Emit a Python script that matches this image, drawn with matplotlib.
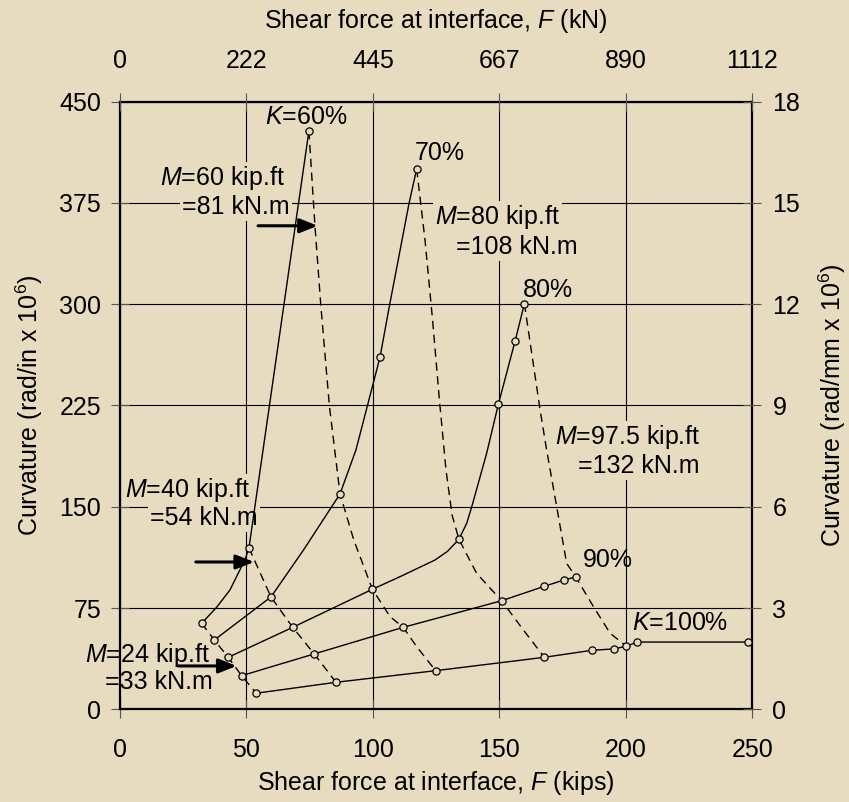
import numpy as np
import matplotlib
matplotlib.use('Agg')
import matplotlib.pyplot as plt

# fonts (Arial-like)
plt.rcParams.update({'font.family': 'Liberation Sans'})
plt.rcParams.update({'mathtext.fontset': 'custom'})
plt.rcParams.update({'mathtext.rm': 'Liberation Sans'})
plt.rcParams.update({'mathtext.it': 'Liberation Sans:italic'})
plt.rcParams.update({'font.size': 18})

BG = '#E7DCC0'

#%% data (kips, rad/in x 10^6)
# measured points (circles) on each K curve
k60_x = [32.3, 51.0, 74.7]
k60_y = [63.7, 119.5, 428.3]
k70_x = [37.3, 59.7, 87.0, 102.8, 117.3]
k70_y = [51.3, 83.2, 159.5, 260.7, 400.2]
k80_x = [42.8, 68.3, 99.8, 134.0, 149.6, 156.2, 159.9]
k80_y = [38.5, 60.7, 88.9, 125.9, 225.9, 272.6, 300.4]
k90_x = [48.1, 76.8, 112.0, 150.9, 167.8, 175.6, 180.2]
k90_y = [24.9, 41.0, 60.7, 80.4, 91.1, 95.8, 98.0]
k100_x = [53.9, 85.4, 124.8, 167.8, 186.6, 195.2, 200.2, 204.5, 248.3]
k100_y = [11.9, 20.0, 28.6, 38.5, 43.7, 44.7, 46.7, 49.8, 49.8]

# traced solid curves (through the circles)
k60_line_x = [32.3, 38.2, 43.5, 47.4, 49.4, 51.0, 74.7]
k60_line_y = [63.7, 75.5, 88.4, 103.2, 110.5, 119.5, 428.3]
k70_line_x = [37.3, 59.7, 72.5, 87.0, 93.3, 97.8, 102.8, 106.6, 114.3, 117.3]
k70_line_y = [51.3, 83.2, 117.8, 159.5, 192.1, 224.6, 260.7, 299.4, 374.8, 400.2]
k80_line_x = [42.8, 68.3, 99.8, 110.7, 124.6, 129.5, 134.0, 137.1, 139.1, 145.0, 149.6, 156.2, 159.9]
k80_line_y = [38.5, 60.7, 88.9, 98.2, 110.6, 117.0, 125.9, 137.8, 150.1, 189.8, 225.9, 272.6, 300.4]

# traced dashed constant-moment lines
m24_x = [32.3, 37.3, 42.8, 48.1, 53.9]
m24_y = [63.7, 51.3, 38.5, 24.9, 11.9]
m40_x = [51.0, 59.7, 68.3, 76.8, 85.4]
m40_y = [119.5, 83.2, 60.7, 41.0, 20.0]
m60_x = [74.7, 77.1, 79.4, 82.8, 87.0, 92.5, 99.8, 106.8, 112.0, 117.3, 124.8]
m60_y = [428.3, 357.7, 299.4, 224.6, 159.5, 125.0, 88.9, 68.6, 60.7, 46.4, 28.6]
m80_x = [117.3, 120.6, 123.6, 126.3, 128.9, 131.3, 134.0, 141.0, 150.9, 159.5, 167.8]
m80_y = [400.2, 347.6, 288.3, 229.1, 177.2, 143.9, 125.9, 100.7, 80.4, 58.7, 38.5]
m975_x = [159.9, 166.1, 168.7, 172.4, 176.6, 180.2, 187.2, 193.8, 200.2]
m975_y = [300.4, 221.7, 192.0, 152.8, 108.1, 98.0, 76.0, 56.3, 46.7]

kn_ticks = [0, 222, 445, 667, 890, 1112]
mm_ticks = [0, 3, 6, 9, 12, 15, 18]

#%% figure
fig = plt.figure(figsize=(8.49, 8.02), dpi=100, facecolor=BG)
ax = fig.add_axes([0.1413, 0.1156, 0.7448, 0.7576])
ax.set_facecolor(BG)

lw = 1.0
for xs, ys in [(k60_line_x, k60_line_y), (k70_line_x, k70_line_y),
               (k80_line_x, k80_line_y), (k90_x, k90_y), (k100_x, k100_y)]:
    ax.plot(xs, ys, color='black', linewidth=lw, zorder=3)

for xs, ys in [(m24_x, m24_y), (m40_x, m40_y), (m60_x, m60_y),
               (m80_x, m80_y), (m975_x, m975_y)]:
    ax.plot(xs, ys, color='black', linewidth=lw, linestyle=(0, (6, 4)), zorder=3)

for xs, ys in [(k60_x, k60_y), (k70_x, k70_y), (k80_x, k80_y),
               (k90_x, k90_y), (k100_x, k100_y)]:
    ax.plot(xs, ys, linestyle='none', marker='o', markersize=5.2,
            markerfacecolor=BG, markeredgecolor='black', markeredgewidth=0.9,
            zorder=4)

# arrows pointing at the dashed lines
arrow = dict(arrowstyle='-|>,head_length=0.9,head_width=0.36', color='black',
             lw=2.2, shrinkA=0, shrinkB=0, mutation_scale=12)
ax.annotate('', xy=(78.2, 358.1), xytext=(54.6, 358.1), arrowprops=arrow, zorder=5)
ax.annotate('', xy=(53.0, 109.1), xytext=(30.0, 109.1), arrowprops=arrow, zorder=5)
ax.annotate('', xy=(46.1, 32.1), xytext=(23.1, 32.1), arrowprops=arrow, zorder=5)

# moment labels (box hides the grid behind)
box = dict(facecolor=BG, edgecolor='none', pad=1.5)
def mlabel(x1, y1, s1, x2, y2, s2):
    ax.text(x1, y1, s1, ha='left', va='center', bbox=box, zorder=2.5, clip_on=False)
    ax.text(x2, y2, s2, ha='left', va='center', bbox=box, zorder=2.5, clip_on=False)

mlabel(15.8, 393.5, r'$\mathit{M}$=60 kip.ft', 24.5, 372.0, '=81 kN.m')
mlabel(124.6, 364.6, r'$\mathit{M}$=80 kip.ft', 132.9, 342.4, '=108 kN.m')
mlabel(172.0, 201.7, r'$\mathit{M}$=97.5 kip.ft', 181.1, 180.2, '=132 kN.m')
mlabel(2.0, 162.4, r'$\mathit{M}$=40 kip.ft', 11.9, 141.7, '=54 kN.m')
mlabel(-13.8, 40.2, r'$\mathit{M}$=24 kip.ft', -5.9, 20.2, '=33 kN.m')

# K labels
ax.text(57.3, 438.5, r'$\mathit{K}$=60%', ha='left', va='center', zorder=2.5)
ax.text(116.6, 411.8, '70%', ha='left', va='center', zorder=2.5)
ax.text(159.4, 310.4, '80%', ha='left', va='center', zorder=2.5)
ax.text(183.0, 110.6, '90%', ha='left', va='center', zorder=2.5)
ax.text(202.6, 63.7, r'$\mathit{K}$=100%', ha='left', va='center', zorder=2.5)

ax.set_xlim(0, 250)
ax.set_ylim(0, 450)
ax.set_xticks(np.linspace(0, 250, 6))
ax.set_yticks(np.linspace(0, 450, 7))
ax.set_axisbelow(True)
ax.grid(True, color='black', linewidth=0.8)
ax.tick_params(axis='both', direction='inout', length=13, width=0.8,
               color='#555555', labelsize=18)
ax.tick_params(axis='x', pad=14)
ax.tick_params(axis='y', pad=7)
for s in ax.spines.values():
    s.set_linewidth(1.6)

ax.set_xlabel(r'Shear force at interface, $\mathit{F}$ (kips)', fontsize=18, labelpad=5)
ax.set_ylabel(r'Curvature (rad/in x 10$^6$)', fontsize=18, labelpad=10)

# kN on top
axt = ax.twiny()
axt.set_xlim(0, 250 * 4.448)
axt.set_xticks(kn_ticks)
axt.tick_params(axis='x', direction='inout', length=13, width=0.8,
                color='#555555', labelsize=18, pad=14)
axt.set_xlabel(r'Shear force at interface, $\mathit{F}$ (kN)', fontsize=18, labelpad=15)

# rad/mm on right
axr = ax.twinx()
axr.set_ylim(0, 18)
axr.set_yticks(mm_ticks)
axr.tick_params(axis='y', direction='inout', length=13, width=0.8,
                color='#555555', labelsize=18, pad=8)
axr.set_ylabel(r'Curvature (rad/mm x 10$^6$)', fontsize=18, labelpad=12)
for a in (axt, axr):
    for s in a.spines.values():
        s.set_visible(False)

plt.savefig('out.png', dpi=100, facecolor=BG)
